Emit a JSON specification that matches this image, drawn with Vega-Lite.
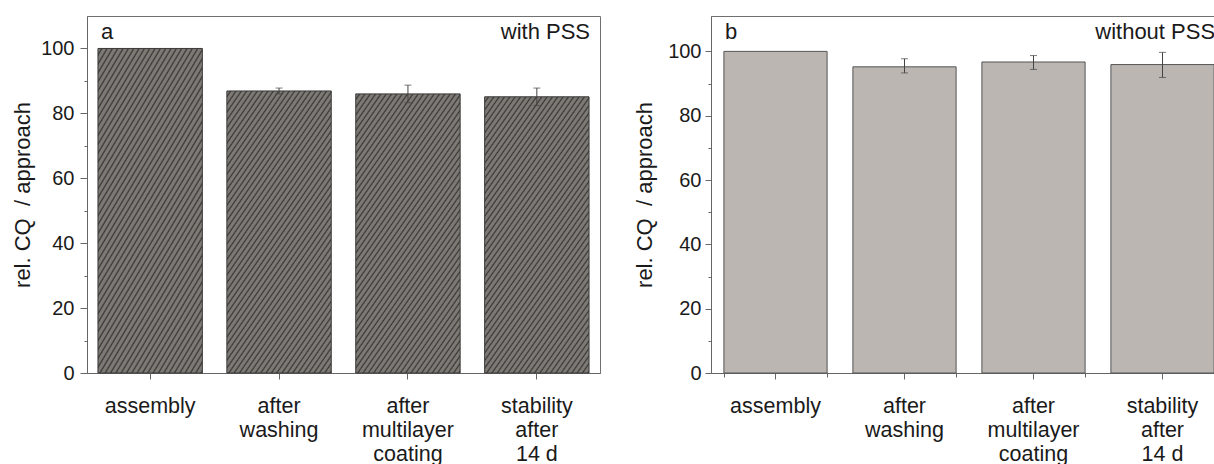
{
  "$schema": "https://vega.github.io/schema/vega-lite/v6.json",
  "background": "white",
  "padding": {"left": 11, "top": 15, "right": 0, "bottom": 0},
  "spacing": 32,
  "config": {
    "font": "Liberation Sans",
    "view": {"stroke": "#707070", "strokeWidth": 1},
    "axis": {
      "grid": false,
      "domainColor": "#666666",
      "tickColor": "#666666",
      "labelColor": "#1a1a1a",
      "titleColor": "#1a1a1a",
      "labelFont": "Liberation Sans",
      "titleFont": "Liberation Sans",
      "titleFontWeight": "normal",
      "labelFontSize": 20,
      "titleFontSize": 22
    }
  },
  "hconcat": [
    {
      "width": 513,
      "height": 357,
      "data": {"values": [
        {"cat": "assembly", "val": 100},
        {"cat": "after|washing", "val": 86.9, "lo": 86.0, "hi": 87.8},
        {"cat": "after|multilayer|coating", "val": 86.0, "lo": 83.3, "hi": 88.7},
        {"cat": "stability|after|14 d", "val": 85.1, "lo": 82.4, "hi": 87.8}
      ]},
      "resolve": {"axis": {"y": "independent"}},
      "layer": [
        {
          "mark": {
            "type": "bar",
            "stroke": "#3a3a3a",
            "strokeWidth": 1,
            "fill": {
              "gradient": "linear", "x1": 0, "y1": 0, "x2": 0.643, "y2": 1.193,
              "stops": [
                {"offset": 0, "color": "#7d7975"}, {"offset": 0.0080, "color": "#7d7975"}, {"offset": 0.0134, "color": "#3a3836"},
                {"offset": 0.0179, "color": "#7d7975"}, {"offset": 0.0259, "color": "#7d7975"}, {"offset": 0.0313, "color": "#3a3836"},
                {"offset": 0.0357, "color": "#7d7975"}, {"offset": 0.0437, "color": "#7d7975"}, {"offset": 0.0491, "color": "#3a3836"},
                {"offset": 0.0536, "color": "#7d7975"}, {"offset": 0.0616, "color": "#7d7975"}, {"offset": 0.0670, "color": "#3a3836"},
                {"offset": 0.0714, "color": "#7d7975"}, {"offset": 0.0794, "color": "#7d7975"}, {"offset": 0.0848, "color": "#3a3836"},
                {"offset": 0.0893, "color": "#7d7975"}, {"offset": 0.0973, "color": "#7d7975"}, {"offset": 0.1027, "color": "#3a3836"},
                {"offset": 0.1071, "color": "#7d7975"}, {"offset": 0.1151, "color": "#7d7975"}, {"offset": 0.1205, "color": "#3a3836"},
                {"offset": 0.1250, "color": "#7d7975"}, {"offset": 0.1330, "color": "#7d7975"}, {"offset": 0.1384, "color": "#3a3836"},
                {"offset": 0.1429, "color": "#7d7975"}, {"offset": 0.1509, "color": "#7d7975"}, {"offset": 0.1563, "color": "#3a3836"},
                {"offset": 0.1607, "color": "#7d7975"}, {"offset": 0.1687, "color": "#7d7975"}, {"offset": 0.1741, "color": "#3a3836"},
                {"offset": 0.1786, "color": "#7d7975"}, {"offset": 0.1866, "color": "#7d7975"}, {"offset": 0.1920, "color": "#3a3836"},
                {"offset": 0.1964, "color": "#7d7975"}, {"offset": 0.2044, "color": "#7d7975"}, {"offset": 0.2098, "color": "#3a3836"},
                {"offset": 0.2143, "color": "#7d7975"}, {"offset": 0.2223, "color": "#7d7975"}, {"offset": 0.2277, "color": "#3a3836"},
                {"offset": 0.2321, "color": "#7d7975"}, {"offset": 0.2401, "color": "#7d7975"}, {"offset": 0.2455, "color": "#3a3836"},
                {"offset": 0.2500, "color": "#7d7975"}, {"offset": 0.2580, "color": "#7d7975"}, {"offset": 0.2634, "color": "#3a3836"},
                {"offset": 0.2679, "color": "#7d7975"}, {"offset": 0.2759, "color": "#7d7975"}, {"offset": 0.2813, "color": "#3a3836"},
                {"offset": 0.2857, "color": "#7d7975"}, {"offset": 0.2937, "color": "#7d7975"}, {"offset": 0.2991, "color": "#3a3836"},
                {"offset": 0.3036, "color": "#7d7975"}, {"offset": 0.3116, "color": "#7d7975"}, {"offset": 0.3170, "color": "#3a3836"},
                {"offset": 0.3214, "color": "#7d7975"}, {"offset": 0.3294, "color": "#7d7975"}, {"offset": 0.3348, "color": "#3a3836"},
                {"offset": 0.3393, "color": "#7d7975"}, {"offset": 0.3473, "color": "#7d7975"}, {"offset": 0.3527, "color": "#3a3836"},
                {"offset": 0.3571, "color": "#7d7975"}, {"offset": 0.3651, "color": "#7d7975"}, {"offset": 0.3705, "color": "#3a3836"},
                {"offset": 0.3750, "color": "#7d7975"}, {"offset": 0.3830, "color": "#7d7975"}, {"offset": 0.3884, "color": "#3a3836"},
                {"offset": 0.3929, "color": "#7d7975"}, {"offset": 0.4009, "color": "#7d7975"}, {"offset": 0.4063, "color": "#3a3836"},
                {"offset": 0.4107, "color": "#7d7975"}, {"offset": 0.4187, "color": "#7d7975"}, {"offset": 0.4241, "color": "#3a3836"},
                {"offset": 0.4286, "color": "#7d7975"}, {"offset": 0.4366, "color": "#7d7975"}, {"offset": 0.4420, "color": "#3a3836"},
                {"offset": 0.4464, "color": "#7d7975"}, {"offset": 0.4544, "color": "#7d7975"}, {"offset": 0.4598, "color": "#3a3836"},
                {"offset": 0.4643, "color": "#7d7975"}, {"offset": 0.4723, "color": "#7d7975"}, {"offset": 0.4777, "color": "#3a3836"},
                {"offset": 0.4821, "color": "#7d7975"}, {"offset": 0.4901, "color": "#7d7975"}, {"offset": 0.4955, "color": "#3a3836"},
                {"offset": 0.5000, "color": "#7d7975"}, {"offset": 0.5080, "color": "#7d7975"}, {"offset": 0.5134, "color": "#3a3836"},
                {"offset": 0.5179, "color": "#7d7975"}, {"offset": 0.5259, "color": "#7d7975"}, {"offset": 0.5313, "color": "#3a3836"},
                {"offset": 0.5357, "color": "#7d7975"}, {"offset": 0.5437, "color": "#7d7975"}, {"offset": 0.5491, "color": "#3a3836"},
                {"offset": 0.5536, "color": "#7d7975"}, {"offset": 0.5616, "color": "#7d7975"}, {"offset": 0.5670, "color": "#3a3836"},
                {"offset": 0.5714, "color": "#7d7975"}, {"offset": 0.5794, "color": "#7d7975"}, {"offset": 0.5848, "color": "#3a3836"},
                {"offset": 0.5893, "color": "#7d7975"}, {"offset": 0.5973, "color": "#7d7975"}, {"offset": 0.6027, "color": "#3a3836"},
                {"offset": 0.6071, "color": "#7d7975"}, {"offset": 0.6151, "color": "#7d7975"}, {"offset": 0.6205, "color": "#3a3836"},
                {"offset": 0.6250, "color": "#7d7975"}, {"offset": 0.6330, "color": "#7d7975"}, {"offset": 0.6384, "color": "#3a3836"},
                {"offset": 0.6429, "color": "#7d7975"}, {"offset": 0.6509, "color": "#7d7975"}, {"offset": 0.6563, "color": "#3a3836"},
                {"offset": 0.6607, "color": "#7d7975"}, {"offset": 0.6687, "color": "#7d7975"}, {"offset": 0.6741, "color": "#3a3836"},
                {"offset": 0.6786, "color": "#7d7975"}, {"offset": 0.6866, "color": "#7d7975"}, {"offset": 0.6920, "color": "#3a3836"},
                {"offset": 0.6964, "color": "#7d7975"}, {"offset": 0.7044, "color": "#7d7975"}, {"offset": 0.7098, "color": "#3a3836"},
                {"offset": 0.7143, "color": "#7d7975"}, {"offset": 0.7223, "color": "#7d7975"}, {"offset": 0.7277, "color": "#3a3836"},
                {"offset": 0.7321, "color": "#7d7975"}, {"offset": 0.7401, "color": "#7d7975"}, {"offset": 0.7455, "color": "#3a3836"},
                {"offset": 0.7500, "color": "#7d7975"}, {"offset": 0.7580, "color": "#7d7975"}, {"offset": 0.7634, "color": "#3a3836"},
                {"offset": 0.7679, "color": "#7d7975"}, {"offset": 0.7759, "color": "#7d7975"}, {"offset": 0.7813, "color": "#3a3836"},
                {"offset": 0.7857, "color": "#7d7975"}, {"offset": 0.7937, "color": "#7d7975"}, {"offset": 0.7991, "color": "#3a3836"},
                {"offset": 0.8036, "color": "#7d7975"}, {"offset": 0.8116, "color": "#7d7975"}, {"offset": 0.8170, "color": "#3a3836"},
                {"offset": 0.8214, "color": "#7d7975"}, {"offset": 0.8294, "color": "#7d7975"}, {"offset": 0.8348, "color": "#3a3836"},
                {"offset": 0.8393, "color": "#7d7975"}, {"offset": 0.8473, "color": "#7d7975"}, {"offset": 0.8527, "color": "#3a3836"},
                {"offset": 0.8571, "color": "#7d7975"}, {"offset": 0.8651, "color": "#7d7975"}, {"offset": 0.8705, "color": "#3a3836"},
                {"offset": 0.8750, "color": "#7d7975"}, {"offset": 0.8830, "color": "#7d7975"}, {"offset": 0.8884, "color": "#3a3836"},
                {"offset": 0.8929, "color": "#7d7975"}, {"offset": 0.9009, "color": "#7d7975"}, {"offset": 0.9063, "color": "#3a3836"},
                {"offset": 0.9107, "color": "#7d7975"}, {"offset": 0.9187, "color": "#7d7975"}, {"offset": 0.9241, "color": "#3a3836"},
                {"offset": 0.9286, "color": "#7d7975"}, {"offset": 0.9366, "color": "#7d7975"}, {"offset": 0.9420, "color": "#3a3836"},
                {"offset": 0.9464, "color": "#7d7975"}, {"offset": 0.9544, "color": "#7d7975"}, {"offset": 0.9598, "color": "#3a3836"},
                {"offset": 0.9643, "color": "#7d7975"}, {"offset": 0.9723, "color": "#7d7975"}, {"offset": 0.9777, "color": "#3a3836"},
                {"offset": 0.9821, "color": "#7d7975"}, {"offset": 0.9901, "color": "#7d7975"}, {"offset": 0.9955, "color": "#3a3836"},
                {"offset": 1, "color": "#7d7975"}
              ]
            }
          },
          "encoding": {
            "x": {
              "field": "cat", "type": "nominal", "sort": null,
              "scale": {"paddingInner": 0.19, "paddingOuter": 0.085},
              "axis": {"title": null, "labelAngle": 0, "labelExpr": "split(datum.label, '|')", "labelFontSize": 21.5, "labelLineHeight": 24, "tickSize": 6, "labelPadding": 16.5, "domainColor": "#666666"}
            },
            "y": {
              "field": "val", "type": "quantitative",
              "scale": {"domain": [0, 110], "nice": false},
              "axis": {"title": "rel. CQ\u00a0\u00a0/ approach", "values": [0, 20, 40, 60, 80, 100], "tickSize": 7, "labelPadding": 6, "titlePadding": 6}
            }
          }
        },
        {
          "transform": [{"filter": "datum.hi != null"}],
          "mark": {"type": "rule", "color": "#444444", "strokeWidth": 1},
          "encoding": {
            "x": {"field": "cat", "type": "nominal", "sort": null},
            "y": {"field": "lo", "type": "quantitative", "axis": {"orient": "left", "values": [10, 30, 50, 70, 90], "labels": false, "domain": false, "tickSize": 3, "title": null}},
            "y2": {"field": "hi"}
          }
        },
        {
          "transform": [{"filter": "datum.hi != null"}],
          "mark": {"type": "tick", "color": "#444444", "size": 7, "thickness": 1},
          "encoding": {
            "x": {"field": "cat", "type": "nominal", "sort": null},
            "y": {"field": "hi", "type": "quantitative", "axis": null}
          }
        },
        {
          "transform": [{"filter": "datum.hi != null"}],
          "mark": {"type": "tick", "color": "#444444", "size": 7, "thickness": 1},
          "encoding": {
            "x": {"field": "cat", "type": "nominal", "sort": null},
            "y": {"field": "lo", "type": "quantitative", "axis": null}
          }
        },
        {
          "data": {"values": [{"t": "a"}]},
          "mark": {"type": "text", "align": "left", "baseline": "alphabetic", "fontSize": 22, "color": "#1a1a1a", "dx": 3},
          "encoding": {
            "x": {"datum": "assembly", "bandPosition": 0},
            "y": {"datum": 103, "type": "quantitative", "axis": null},
            "text": {"field": "t"}
          }
        },
        {
          "data": {"values": [{"t": "with PSS"}]},
          "mark": {"type": "text", "align": "right", "baseline": "alphabetic", "fontSize": 22, "color": "#1a1a1a", "dx": 1},
          "encoding": {
            "x": {"datum": "stability|after|14 d", "bandPosition": 1},
            "y": {"datum": 103, "type": "quantitative", "axis": null},
            "text": {"field": "t"}
          }
        }
      ]
    },
    {
      "width": 516,
      "height": 357,
      "data": {"values": [
        {"cat": "assembly", "val": 100},
        {"cat": "after|washing", "val": 95.2, "lo": 93.3, "hi": 97.7},
        {"cat": "after|multilayer|coating", "val": 96.7, "lo": 94.4, "hi": 98.7},
        {"cat": "stability|after|14 d", "val": 95.9, "lo": 91.9, "hi": 99.7}
      ]},
      "resolve": {"axis": {"y": "independent", "x": "independent"}},
      "layer": [
        {
          "mark": {"type": "bar", "fill": "#bbb6b1", "stroke": "#555555", "strokeWidth": 1},
          "encoding": {
            "x": {
              "field": "cat", "type": "nominal", "sort": null,
              "scale": {"paddingInner": 0.2, "paddingOuter": 0.1},
              "axis": {"title": null, "labelAngle": 0, "labelExpr": "split(datum.label, '|')", "labelFontSize": 21.5, "labelLineHeight": 24, "tickSize": 6, "labelPadding": 16.5}
            },
            "y": {
              "field": "val", "type": "quantitative",
              "scale": {"domain": [0, 111], "nice": false},
              "axis": {"title": "rel. CQ\u00a0\u00a0/ approach", "values": [0, 20, 40, 60, 80, 100], "tickSize": 6, "labelPadding": 4, "titlePadding": 11}
            }
          }
        },
        {
          "transform": [{"filter": "datum.hi != null"}],
          "mark": {"type": "rule", "color": "#444444", "strokeWidth": 1},
          "encoding": {
            "x": {"field": "cat", "type": "nominal", "sort": null, "axis": {"orient": "bottom", "tickBand": "extent", "labels": false, "domain": false, "tickSize": 4, "title": null}},
            "y": {"field": "lo", "type": "quantitative", "axis": {"orient": "left", "values": [10, 30, 50, 70, 90], "labels": false, "domain": false, "tickSize": 3, "title": null}},
            "y2": {"field": "hi"}
          }
        },
        {
          "transform": [{"filter": "datum.hi != null"}],
          "mark": {"type": "tick", "color": "#444444", "size": 7, "thickness": 1},
          "encoding": {
            "x": {"field": "cat", "type": "nominal", "sort": null, "axis": null},
            "y": {"field": "hi", "type": "quantitative", "axis": null}
          }
        },
        {
          "transform": [{"filter": "datum.hi != null"}],
          "mark": {"type": "tick", "color": "#444444", "size": 7, "thickness": 1},
          "encoding": {
            "x": {"field": "cat", "type": "nominal", "sort": null, "axis": null},
            "y": {"field": "lo", "type": "quantitative", "axis": null}
          }
        },
        {
          "data": {"values": [{"t": "b"}]},
          "mark": {"type": "text", "align": "left", "baseline": "alphabetic", "fontSize": 22, "color": "#1a1a1a", "dx": 1},
          "encoding": {
            "x": {"datum": "assembly", "bandPosition": 0, "axis": null},
            "y": {"datum": 104, "type": "quantitative", "axis": null},
            "text": {"field": "t"}
          }
        },
        {
          "data": {"values": [{"t": "without PSS"}]},
          "mark": {"type": "text", "align": "right", "baseline": "alphabetic", "fontSize": 22, "color": "#1a1a1a", "dx": 1},
          "encoding": {
            "x": {"datum": "stability|after|14 d", "bandPosition": 1, "axis": null},
            "y": {"datum": 104, "type": "quantitative", "axis": null},
            "text": {"field": "t"}
          }
        }
      ]
    }
  ]
}
